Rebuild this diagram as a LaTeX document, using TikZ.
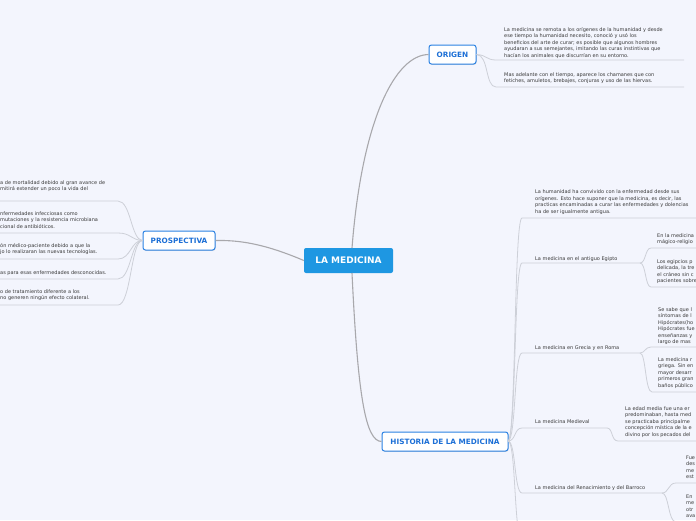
\documentclass[tikz,border=0pt]{standalone}
\usepackage{fontspec}
\setmainfont{DejaVu Sans}
\usetikzlibrary{shadows}
\definecolor{bg}{HTML}{F3F5FD}
\definecolor{mainblue}{HTML}{1E97E2}
\definecolor{boxblue}{HTML}{2B82E3}
\definecolor{txtblue}{HTML}{1C6FD6}
\definecolor{txt}{HTML}{3A3A3A}
\definecolor{thinline}{HTML}{CDD0D8}
\definecolor{thickline}{HTML}{A8A8AC}
\begin{document}
\begin{tikzpicture}[x=1pt,y=-1pt,
  central/.style={fill=mainblue, rounded corners=2pt, text=white, font=\fontsize{9}{10}\selectfont\bfseries, minimum width=89pt, minimum height=25pt, inner sep=0pt},
  topic/.style={draw=boxblue, line width=1pt, fill=white, rounded corners=2.5pt, text=txtblue, font=\fontsize{7.3}{8}\selectfont\bfseries, minimum height=19pt, inner sep=0pt, drop shadow={opacity=0.25, shadow xshift=0.6pt, shadow yshift=-0.8pt}},
  leaf/.style={anchor=base west, align=left, inner sep=0pt, text=txt, font=\fontsize{5}{6.5}\selectfont},
  mainline/.style={draw=thickline, line width=1.1pt},
  subline/.style={draw=thinline, line width=0.8pt}]
\useasboundingbox (0,0) rectangle (696,520);
\fill[bg] (0,0) rectangle (696,520);
\clip (0,0) rectangle (696,520);

% main nodes
\node[central] (c) at (348.5,260.5) {LA MEDICINA};
\node[topic, minimum width=47pt] (o) at (452.5,54.5) {ORIGEN};
\node[topic, minimum width=72pt] (p) at (179,240.5) {PROSPECTIVA};
\node[topic, minimum width=126pt] (h) at (445,441.5) {HISTORIA DE LA MEDICINA};

% main connectors
\coordinate (ctop) at (352,248);
\coordinate (cbot) at (352,273);
\draw[mainline] (ctop) .. controls (362,120) and (395,55) .. (o.west);
\draw[mainline] (c.west) .. controls (265,244) and (240,240) .. (p.east);
\draw[mainline] (cbot) .. controls (358,400) and (366,441) .. (h.west);

% ORIGEN children (positions = baseline of last line)
\node[leaf] (o1) at (504,57) {La medicina se remota a los orígenes de la humanidad y desde\\ese tiempo la humanidad necesito, conoció y usó los\\beneficios del arte de curar; es posible que algunos hombres\\ayudaran a sus semejantes, imitando las curas instintivas que\\hacían los animales que discurrían en su entorno.};
\node[leaf] (o2) at (504,82.5) {Mas adelante con el tiempo, aparece los chamanes que con\\fetiches, amuletos, brebajes, conjuras y uso de las hiervas.};
\coordinate (o1u) at (496,60); \coordinate (o1e) at (684,60);
\coordinate (o2u) at (496,87); \coordinate (o2e) at (684,87);
\draw[subline] (o.east) .. controls (487,55) and (486,60) .. (o1u) -- (o1e);
\draw[subline] (o.east) .. controls (489,55) and (485,87) .. (o2u) -- (o2e);

% PROSPECTIVA children
\node[leaf] (p1) at (0,190.5) {a de mortalidad debido al gran avance de\\mitirá extender un poco la vida del};
\node[leaf] (p2) at (0,228) {nfermedades infecciosas como\\mutaciones y la resistencia microbiana\\cional de antibióticos.};
\node[leaf] (p3) at (0,253.5) {ón médico-paciente debido a que la\\jo lo realizaran las nuevas tecnologías.};
\node[leaf] (p4) at (0,274) {as para esas enfermedades desconocidas.};
\node[leaf] (p5) at (0,299.5) {o de tratamiento diferente a los\\no generen ningún efecto colateral.};
\foreach \n/\yy in {1/201,2/233,3/259,4/279,5/305}{
  \coordinate (p\n u) at (118,\yy); \coordinate (p\n e) at (-5,\yy);
  \draw[subline] (p.west) .. controls (131,240) and (131,\yy) .. (p\n u) -- (p\n e);
}

% HISTORIA children
\node[leaf] (h1) at (535,213) {La humanidad ha convivido con la enfermedad desde sus\\orígenes. Esto hace suponer que la medicina, es decir, las\\practicas encaminadas a curar las enfermedades y dolencias\\ha de ser igualmente antigua.};
\node[leaf] (h2) at (535,260) {La medicina en el antiguo Egipto};
\node[leaf] (h3) at (535,349) {La medicina en Grecia y en Roma};
\node[leaf] (h4) at (535,423) {La medicina Medieval};
\node[leaf] (h5) at (535,489) {La medicina del Renacimiento y del Barroco};
\coordinate (h1u) at (522,218); \coordinate (h1e) at (700,218);
\coordinate (h2u) at (522,263); \coordinate (h2e) at (640,263);
\coordinate (h3u) at (522,353); \coordinate (h3e) at (640,353);
\coordinate (h4u) at (522,428); \coordinate (h4e) at (607,428);
\coordinate (h5u) at (522,493); \coordinate (h5e) at (662,493);
\coordinate (h6u) at (522,540);
\coordinate (hr) at (508,441);
\foreach \n/\yy in {1/218,2/263,3/353,4/428,5/493}{
  \draw[subline] (hr) .. controls (516,441) and (514,\yy) .. (h\n u) -- (h\n e);
}
\draw[subline] (hr) .. controls (516,441) and (514,540) .. (h6u);

% H2 children
\node[leaf] (h2a) at (657,243.5) {En la medicina\\mágico-religio};
\node[leaf] (h2b) at (657,282.5) {Los egipcios p\\delicada, la tre\\el cráneo sin c\\pacientes sobre};
\coordinate (h2au) at (651,248); \coordinate (h2ae) at (700,248);
\coordinate (h2bu) at (651,287); \coordinate (h2be) at (700,287);
\draw[subline] (h2e) .. controls (646,263) and (645,248) .. (h2au) -- (h2ae);
\draw[subline] (h2e) .. controls (646,263) and (645,287) .. (h2bu) -- (h2be);

% H3 children
\node[leaf] (h3a) at (658,343.5) {Se sabe que l\\síntomas de l\\Hipócrates(ho\\Hipócrates fue\\enseñanzas y\\largo de mas};
\node[leaf] (h3b) at (658,387) {La medicina r\\griega. Sin en\\mayor desarr\\primeros gran\\baños público};
\coordinate (h3au) at (651,347); \coordinate (h3ae) at (700,347);
\coordinate (h3bu) at (652,392); \coordinate (h3be) at (700,392);
\draw[subline] (h3e) .. controls (645,353) and (645,347) .. (h3au) -- (h3ae);
\draw[subline] (h3e) .. controls (646,353) and (645,392) .. (h3bu) -- (h3be);

% H4 children
\node[leaf] (h4a) at (625,436) {La edad media fue una er\\predominaban, hasta med\\se practicaba principalme\\concepción mística de la e\\divino por los pecados del};
\coordinate (h4au) at (618,441); \coordinate (h4ae) at (700,441);
\draw[subline] (h4e) .. controls (613,428) and (611,441) .. (h4au) -- (h4ae);

% H5 children
\node[leaf] (h5a) at (686,478.5) {Fue\\des\\me\\est};
\node[leaf] (h5b) at (686,517.5) {En\\me\\otr\\ava};
\coordinate (h5au) at (676,483); \coordinate (h5ae) at (700,483);
\coordinate (h5bu) at (676,522); \coordinate (h5be) at (700,522);
\draw[subline] (h5e) .. controls (669,493) and (668,483) .. (h5au) -- (h5ae);
\draw[subline] (h5e) .. controls (669,493) and (668,522) .. (h5bu) -- (h5be);
\end{tikzpicture}
\end{document}
